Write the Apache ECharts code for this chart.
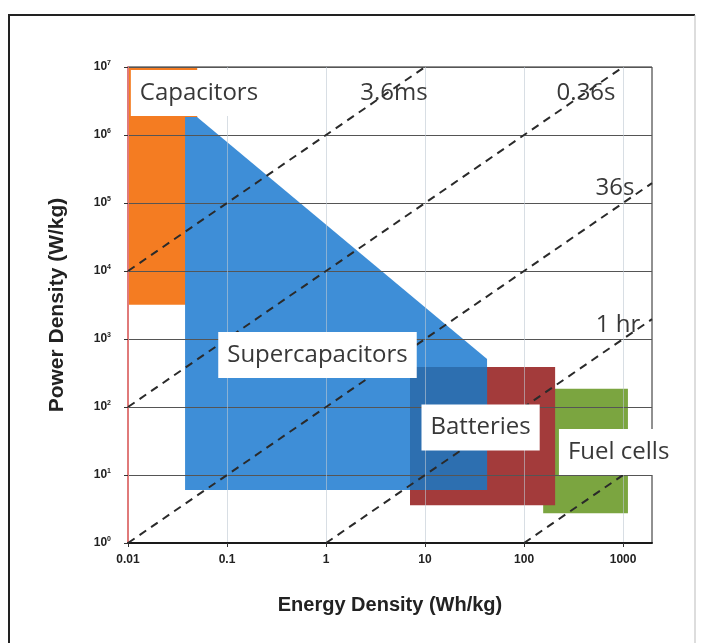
<!DOCTYPE html>
<html><head><meta charset="utf-8">
<script src="https://cdn.jsdelivr.net/npm/echarts@6/dist/echarts.min.js"></script>
<style>html,body{margin:0;padding:0;background:#fff}#c{width:703px;height:643px}</style>
</head><body><div id="c"></div>
<script>
// Energy density (Wh/kg) on x, Power density (W/kg) on y
const xTicks = [0.01, 0.1, 1, 10, 100, 1000];
const yTicks = [1, 10, 100, 1000, 1e4, 1e5, 1e6, 1e7];
const xRange = [0.01, 1960];
const yRange = [1, 1e7];

// Region outlines, [energy, power]
const capacitors = [[0.01, 3.2e3], [0.05, 3.2e3], [0.05, 1e7], [0.01, 1e7]];
const fuelCells = [[156, 2.75], [1120, 2.75], [1120, 185], [156, 185]];
const batteries = [[7.05, 3.6], [206, 3.6], [206, 388], [7.05, 388]];
const supercapacitors = [[0.0377, 6], [42.3, 6], [42.3, 508], [0.0498, 1.84e6], [0.0377, 1.84e6]];
const overlapRegion = [[7.05, 6], [42.3, 6], [42.3, 388], [7.05, 388]];

// Constant discharge-time lines
const line3_6ms = [[0.01, 1e4], [10, 1e7]];
const line0_36s = [[0.01, 100], [1000, 1e7]];
const line36s = [[0.01, 1], [1960, 1.96e5]];
const line1hr = [[1, 1], [1960, 1960]];
const line10hr = [[100, 1], [1960, 19.6]];

// Text labels
const regionLabelText = ['Capacitors', 'Supercapacitors', 'Batteries', 'Fuel cells'];
const regionLabelPos = [[0.0521, 4.15e6], [0.82, 582], [36.4, 50], [902, 21.8]];
const timeLabelText = ['3.6ms', '0.36s', '36s', '1 hr'];
const timeLabelPos = [[4.86, 4.15e6], [423, 4.15e6], [830, 1.66e5], [889, 1607]];

const LABEL_FONT = '24px "Open Sans"';

function polySeries(poly, color) {
  return {
    type: 'custom', coordinateSystem: 'cartesian2d', z: 2, silent: true,
    data: poly,
    renderItem: function (params, api) {
      if (params.dataIndex !== 0) return null;
      const pts = poly.map(p => api.coord(p));
      return { type: 'polygon', shape: { points: pts }, style: { fill: color } };
    }
  };
}
function dashSeries(pts) {
  return {
    type: 'line', z: 4, silent: true, symbol: 'none', data: pts,
    lineStyle: { color: '#2a2a2a', width: 2, type: [8, 6] }
  };
}

const chart = echarts.init(document.getElementById('c'), null, { renderer: 'canvas' });
chart.setOption({
  animation: false,
  backgroundColor: '#fff',
  grid: { left: 128, right: 51, top: 67, bottom: 100, show: true, borderColor: '#222', borderWidth: 1 },
  xAxis: {
    type: 'log', logBase: 10, min: xRange[0], max: xRange[1], splitNumber: 5, z: 3,
    name: 'Energy Density (Wh/kg)', nameLocation: 'middle', nameGap: 52,
    nameTextStyle: { fontFamily: 'Liberation Sans', fontWeight: 'bold', fontSize: 20, color: '#222' },
    axisLine: { show: true, onZero: false, lineStyle: { color: '#1a1a1a', width: 2 } },
    axisTick: { show: true, length: 4, customValues: xTicks, lineStyle: { color: '#333' } },
    axisLabel: {
      customValues: xTicks, margin: 11, fontFamily: 'Liberation Sans', fontWeight: 'bold', fontSize: 12, color: '#222',
      formatter: v => String(v)
    },
    splitLine: { show: true, lineStyle: { color: 'rgba(190,200,210,0.6)', width: 1 } }
  },
  yAxis: {
    type: 'log', logBase: 10, min: yRange[0], max: yRange[1], splitNumber: 7, z: 3,
    name: 'Power Density (W/kg)', nameLocation: 'middle', nameGap: 60, nameRotate: 90,
    nameTextStyle: { fontFamily: 'Liberation Sans', fontWeight: 'bold', fontSize: 21, color: '#222' },
    axisLine: { show: true, lineStyle: { color: '#e07a7a', width: 2 } },
    axisTick: { show: true, length: 4, customValues: yTicks, lineStyle: { color: '#333' } },
    axisLabel: {
      customValues: yTicks, margin: 17,
      formatter: v => '{b|10}{s|' + Math.round(Math.log10(v)) + '}',
      rich: {
        b: { fontFamily: 'Liberation Sans', fontWeight: 'bold', fontSize: 12, color: '#222', lineHeight: 15 },
        s: { fontFamily: 'Liberation Sans', fontWeight: 'bold', fontSize: 7, color: '#222', lineHeight: 8, verticalAlign: 'top' }
      }
    },
    splitLine: { show: true, lineStyle: { color: '#555', width: 1 } }
  },
  series: [
    polySeries(capacitors, '#f47c22'),
    polySeries(fuelCells, '#7ba540'),
    polySeries(batteries, '#a33b3b'),
    polySeries(supercapacitors, '#3e8ed7'),
    polySeries(overlapRegion, '#2d6fb0'),
    dashSeries(line3_6ms),
    dashSeries(line0_36s),
    dashSeries(line36s),
    dashSeries(line1hr),
    dashSeries(line10hr),
    {
      type: 'custom', coordinateSystem: 'cartesian2d', z: 5, silent: true,
      data: regionLabelPos,
      renderItem: function (params, api) {
        const p = api.coord([api.value(0), api.value(1)]);
        return {
          type: 'text', x: p[0], y: p[1],
          style: {
            text: regionLabelText[params.dataIndex], font: LABEL_FONT, fill: '#383838',
            align: 'center', verticalAlign: 'middle', backgroundColor: '#fff', padding: [11, 9]
          }
        };
      }
    },
    {
      type: 'custom', coordinateSystem: 'cartesian2d', z: 5, silent: true,
      data: timeLabelPos,
      renderItem: function (params, api) {
        const p = api.coord([api.value(0), api.value(1)]);
        return {
          type: 'text', x: p[0], y: p[1],
          style: {
            text: timeLabelText[params.dataIndex], font: LABEL_FONT, fill: '#383838',
            align: 'center', verticalAlign: 'middle'
          }
        };
      }
    }
  ],
  graphic: [
    { type: 'line', z: 100, shape: { x1: 8, y1: 15, x2: 695, y2: 15 }, style: { stroke: '#222', lineWidth: 2 } },
    { type: 'line', z: 100, shape: { x1: 9, y1: 15, x2: 9, y2: 643 }, style: { stroke: '#222', lineWidth: 2 } },
    { type: 'line', z: 100, shape: { x1: 695, y1: 15, x2: 695, y2: 643 }, style: { stroke: '#bbb', lineWidth: 1 } }
  ]
});
</script>
</body></html>
